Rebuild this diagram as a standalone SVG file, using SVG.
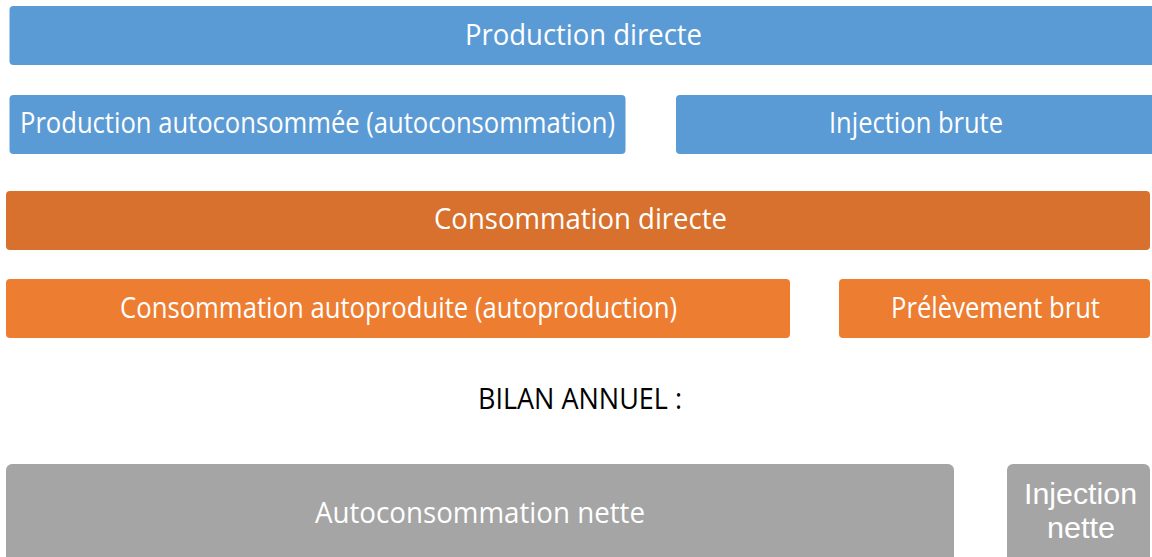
<svg xmlns="http://www.w3.org/2000/svg" width="1152" height="557" viewBox="0 0 1152 557">
  <style>
    .blue { fill: #5B9BD5; }
    .dorange { fill: #D7712D; }
    .orange { fill: #ED7D31; }
    .gray { fill: #A5A5A5; }
    .lbl { font-family: "Open Sans", "Liberation Sans", sans-serif; font-size: 29px; fill: #FFFFFF; }
    .lbl2 { font-family: "Liberation Sans", "Open Sans", sans-serif; font-size: 29px; fill: #FFFFFF; }
    .title { font-family: "Open Sans", "Liberation Sans", sans-serif; font-size: 29px; fill: #000000; }
  </style>
  <rect width="1152" height="557" fill="#FFFFFF"/>
  <g id="production-directe">
    <rect class="blue" x="9.5" y="6" width="1160" height="59" rx="4"/>
    <text class="lbl" x="465" y="45" textLength="237" lengthAdjust="spacingAndGlyphs">Production directe</text>
  </g>
  <g id="production-autoconsommee">
    <rect class="blue" x="9.5" y="95" width="616" height="59" rx="4"/>
    <text class="lbl" x="20" y="133" textLength="595" lengthAdjust="spacingAndGlyphs">Production autoconsommée (autoconsommation)</text>
  </g>
  <g id="injection-brute">
    <rect class="blue" x="676" y="95" width="490" height="59" rx="4"/>
    <text class="lbl" x="829" y="133" textLength="174" lengthAdjust="spacingAndGlyphs">Injection brute</text>
  </g>
  <g id="consommation-directe">
    <rect class="dorange" x="6" y="191" width="1144" height="59" rx="4"/>
    <text class="lbl" x="434" y="228.5" textLength="293" lengthAdjust="spacingAndGlyphs">Consommation directe</text>
  </g>
  <g id="consommation-autoproduite">
    <rect class="orange" x="6" y="279" width="784" height="59" rx="4"/>
    <text class="lbl" x="120" y="318" textLength="557" lengthAdjust="spacingAndGlyphs">Consommation autoproduite (autoproduction)</text>
  </g>
  <g id="prelevement-brut">
    <rect class="orange" x="839" y="279" width="311" height="59" rx="4"/>
    <text class="lbl" x="891" y="318" textLength="209" lengthAdjust="spacingAndGlyphs">Prélèvement brut</text>
  </g>
  <g id="bilan-annuel">
    <text class="title" x="478" y="409" textLength="204" lengthAdjust="spacingAndGlyphs">BILAN ANNUEL :</text>
  </g>
  <g id="autoconsommation-nette">
    <rect class="gray" x="6" y="464" width="948" height="110" rx="6"/>
    <text class="lbl" x="315" y="523" textLength="330" lengthAdjust="spacingAndGlyphs">Autoconsommation nette</text>
  </g>
  <g id="injection-nette">
    <rect class="gray" x="1007" y="464" width="143" height="110" rx="6"/>
    <text class="lbl2" x="1024" y="504" textLength="113" lengthAdjust="spacingAndGlyphs">Injection</text>
    <text class="lbl2" x="1047" y="538" textLength="68" lengthAdjust="spacingAndGlyphs">nette</text>
  </g>
  <g id="connectors"/>
</svg>
